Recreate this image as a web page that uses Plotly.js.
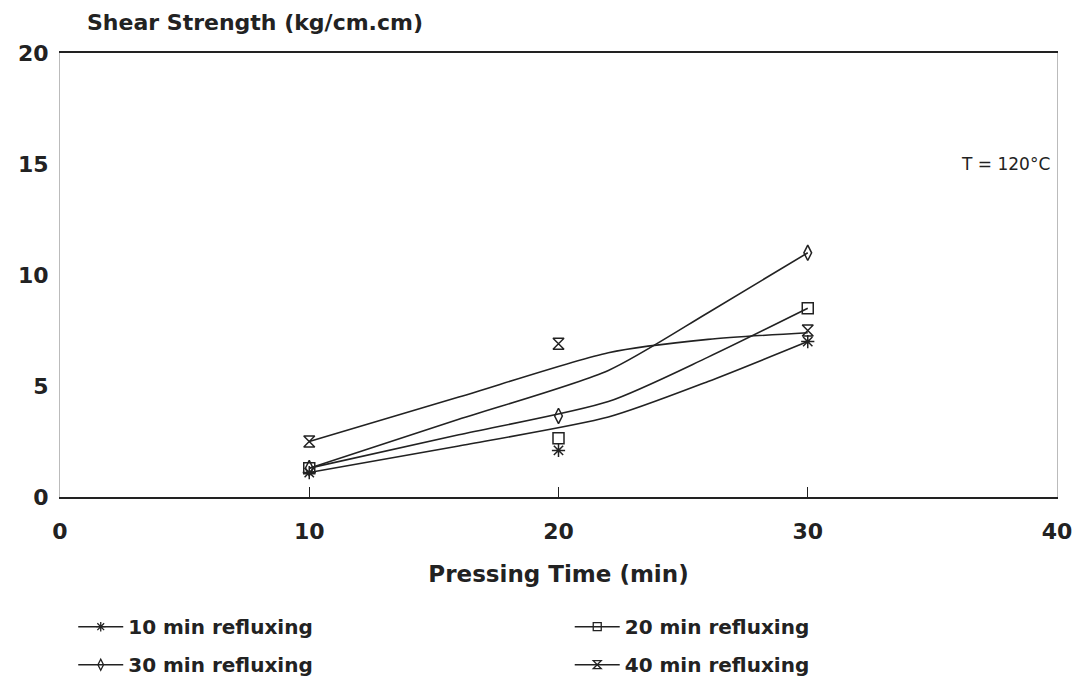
<!DOCTYPE html>
<html>
<head>
<meta charset="utf-8">
<script src="https://cdn.plot.ly/plotly-3.0.1.min.js"></script>
<style>html,body{margin:0;padding:0;background:#fff;}#chart{width:1077px;height:683px;}</style>
</head>
<body>
<div id="chart"></div>
<script>
// Measured points
const pressingTime = [10, 20, 30];
const reflux10 = [1.1, 2.1, 7.0];
const reflux20 = [1.3, 2.65, 8.5];
const reflux30 = [1.3, 3.65, 11.0];
const reflux40 = [2.5, 6.9, 7.5];

// Fitted curves
const fitX = [10, 16, 22, 26, 30];
const fit10 = [1.1, 2.3, 3.6, 5.2, 7.0];
const fit20 = [1.3, 2.8, 4.3, 6.3, 8.5];
const fit30 = [1.3, 3.5, 5.7, 8.3, 11.0];
const fit40 = [2.5, 4.5, 6.5, 7.1, 7.4];

const seriesNames = ['10 min refluxing', '20 min refluxing', '30 min refluxing', '40 min refluxing'];
const symbols = ['asterisk-open', 'square-open', 'diamond-tall-open', 'hourglass-open'];
const pts = [reflux10, reflux20, reflux30, reflux40];
const fits = [fit10, fit20, fit30, fit40];
const legendOf = ['legend', 'legend2', 'legend', 'legend2'];

const ink = '#222';
const traces = [];
for (let i = 0; i < 4; i++) {
  traces.push({x: fitX, y: fits[i], mode: 'lines', line: {color: ink, width: 1.6, shape: 'spline', smoothing: 0.7}, showlegend: false, hoverinfo: 'skip'});
  traces.push({x: pressingTime, y: pts[i], mode: 'markers', marker: {symbol: symbols[i], size: 11, color: ink, line: {color: ink, width: 1.5}}, showlegend: false});
}
for (let i = 0; i < 4; i++) {
  traces.push({x: [null], y: [null], name: seriesNames[i], legend: legendOf[i], legendgroup: 'g' + i,
    mode: 'lines+markers', line: {color: ink, width: 1.6},
    marker: {symbol: symbols[i], size: 8, color: ink, line: {color: ink, width: 1.3}}});
}

const fam = 'DejaVu Sans, Liberation Sans, sans-serif';
const bold = {family: fam, size: 22, weight: 'bold', color: ink};
const legFont = {family: fam, size: 20, weight: 'bold', color: ink};
const layout = {
  width: 1077, height: 683,
  margin: {l: 60, r: 20, t: 53, b: 186, autoexpand: false},
  paper_bgcolor: '#fff', plot_bgcolor: '#fff',
  font: {family: fam, color: ink},
  showlegend: true,
  xaxis: {
    range: [0, 40], tickvals: [0, 10, 20, 30, 40], ticks: 'inside', ticklen: 10, tickcolor: ink,
    showgrid: false, zeroline: false, showline: true, linecolor: ink, linewidth: 2, mirror: true,
    tickfont: bold, ticklabelstandoff: 14, automargin: false,
    title: {text: 'Pressing Time (min)', font: {family: fam, size: 23, weight: 'bold', color: ink}, standoff: 22}
  },
  yaxis: {
    range: [0, 20], tickvals: [0, 5, 10, 15, 20], ticks: '', showgrid: false, zeroline: false,
    showline: true, linecolor: '#bbb', linewidth: 1, mirror: true, automargin: false,
    tickfont: bold, ticklabelstandoff: 6
  },
  legend: {
    xref: 'container', yref: 'container', x: 0.068, xanchor: 'left', y: 0.111, yanchor: 'top',
    tracegroupgap: 9, itemwidth: 45, font: legFont, bgcolor: 'rgba(0,0,0,0)'
  },
  legend2: {
    xref: 'container', yref: 'container', x: 0.529, xanchor: 'left', y: 0.111, yanchor: 'top',
    tracegroupgap: 9, itemwidth: 45, font: legFont, bgcolor: 'rgba(0,0,0,0)'
  },
  annotations: [
    {xref: 'paper', yref: 'paper', x: 0.025, y: 1.035, xanchor: 'left', yanchor: 'bottom', showarrow: false,
     text: 'Shear Strength (kg/cm.cm)', font: bold},
    {xref: 'x', yref: 'y', x: 37.95, y: 15, showarrow: false, text: 'T = 120°C',
     font: {family: fam, size: 17, color: ink}}
  ]
};
Plotly.newPlot('chart', traces, layout, {displayModeBar: false});
</script>
</body>
</html>
